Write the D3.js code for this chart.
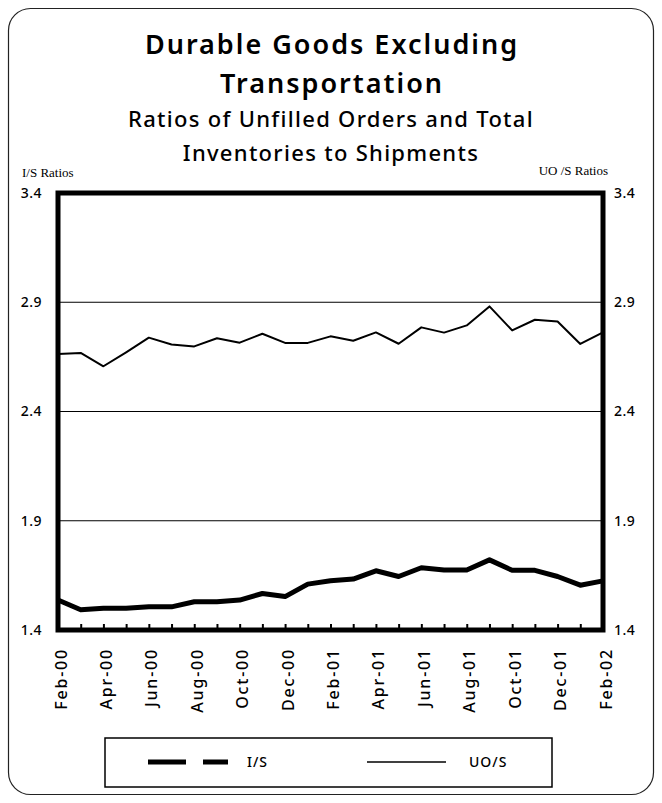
<!DOCTYPE html>
<html>
<head>
<meta charset="utf-8">
<script src="https://cdn.jsdelivr.net/npm/d3@7"></script>
<style>
  html, body { margin: 0; padding: 0; background: #fff; }
  svg { display: block; }
</style>
</head>
<body>
<svg id="chart" width="662" height="803"></svg>
<script>
// ---- data ----
const months = ["Feb-00","Mar-00","Apr-00","May-00","Jun-00","Jul-00","Aug-00","Sep-00","Oct-00","Nov-00","Dec-00","Jan-01",
                "Feb-01","Mar-01","Apr-01","May-01","Jun-01","Jul-01","Aug-01","Sep-01","Oct-01","Nov-01","Dec-01","Jan-02","Feb-02"];
const isRatios = [1.537,1.493,1.500,1.499,1.506,1.506,1.529,1.529,1.537,1.567,1.553,1.610,
                  1.625,1.633,1.671,1.645,1.685,1.675,1.675,1.721,1.673,1.673,1.645,1.605,1.625];
const uosRatios = [2.663,2.668,2.607,2.671,2.738,2.707,2.698,2.735,2.715,2.756,2.714,2.714,
                   2.744,2.724,2.762,2.710,2.785,2.761,2.794,2.881,2.771,2.820,2.812,2.709,2.762];
const yTicks = [1.4, 1.9, 2.4, 2.9, 3.4];
const xTickLabels = ["Feb-00","Apr-00","Jun-00","Aug-00","Oct-00","Dec-00","Feb-01","Apr-01","Jun-01","Aug-01","Oct-01","Dec-01","Feb-02"];
const titleLines = ["Durable Goods Excluding", "Transportation"];
const subtitleLines = ["Ratios of Unfilled Orders and Total", "Inventories to Shipments"];
const leftAxisTitle = "I/S Ratios";
const rightAxisTitle = "UO /S Ratios";
const seriesNames = ["I/S", "UO/S"];

// ---- layout ----
const svg = d3.select("#chart");
const L = 58, R = 603, T = 193, B = 630;
const x = d3.scalePoint().domain(months).range([L, R]);
const y = d3.scaleLinear().domain([1.4, 3.4]).range([B, T]);
const sansFont = "'Noto Sans', 'Open Sans', sans-serif";
const serifFont = "'Liberation Serif', 'DejaVu Serif', serif";

// outer rounded frame
svg.append("rect").attr("x", 8.5).attr("y", 8.5).attr("width", 645).attr("height", 786)
  .attr("rx", 22).attr("ry", 22).attr("fill", "none").attr("stroke", "#222").attr("stroke-width", 1.2);

// titles
const titleY = [54, 93];
svg.selectAll("text.title").data(titleLines).join("text")
  .attr("class", "title").attr("x", 332).attr("y", (d, i) => titleY[i])
  .attr("text-anchor", "middle").attr("font-family", sansFont).attr("font-weight", 600)
  .attr("font-size", 27).attr("letter-spacing", 2).attr("fill", "#000").text(d => d);
const subY = [127, 161];
svg.selectAll("text.subtitle").data(subtitleLines).join("text")
  .attr("class", "subtitle").attr("x", 331).attr("y", (d, i) => subY[i])
  .attr("text-anchor", "middle").attr("font-family", sansFont).attr("font-weight", 500)
  .attr("font-size", 22).attr("letter-spacing", 1.3).attr("fill", "#000").text(d => d);

// axis titles (serif)
svg.append("text").attr("x", 22).attr("y", 177).attr("font-family", serifFont)
  .attr("font-size", 13).text(leftAxisTitle);
svg.append("text").attr("x", 608).attr("y", 175).attr("text-anchor", "end")
  .attr("font-family", serifFont).attr("font-size", 13).text(rightAxisTitle);

// gridlines
svg.append("g").selectAll("line").data(yTicks.filter(v => v > 1.4 && v < 3.4)).join("line")
  .attr("x1", L).attr("x2", R).attr("y1", d => y(d)).attr("y2", d => y(d))
  .attr("stroke", "#000").attr("stroke-width", 1.2);

// left axis labels
const leftAxis = svg.append("g").attr("transform", `translate(${L},0)`)
  .call(d3.axisLeft(y).tickValues(yTicks).tickSize(0).tickPadding(16).tickFormat(d3.format(".1f")));
leftAxis.select(".domain").remove();
leftAxis.selectAll("text").attr("font-family", sansFont).attr("font-size", 14).attr("font-weight", 500)
  .attr("letter-spacing", 0.5).attr("fill", "#000");

// right axis labels
const rightAxis = svg.append("g").attr("transform", `translate(${R},0)`)
  .call(d3.axisRight(y).tickValues(yTicks).tickSize(0).tickPadding(11).tickFormat(d3.format(".1f")));
rightAxis.select(".domain").remove();
rightAxis.selectAll("text").attr("font-family", sansFont).attr("font-size", 14).attr("font-weight", 500)
  .attr("letter-spacing", 0.5).attr("fill", "#000");

// bottom tick marks (all months, inward)
const tickAxis = svg.append("g").attr("transform", `translate(0,${B})`)
  .call(d3.axisBottom(x).tickSize(-6).tickFormat(""));
tickAxis.select(".domain").remove();
tickAxis.selectAll("line").attr("stroke", "#000").attr("stroke-width", 2);

// bottom labels (rotated)
const labelAxis = svg.append("g").attr("transform", `translate(0,${B})`)
  .call(d3.axisBottom(x).tickValues(xTickLabels).tickSize(0).tickPadding(0));
labelAxis.select(".domain").remove();
labelAxis.selectAll("text")
  .attr("transform", "rotate(-90)")
  .attr("x", -18).attr("y", 0).attr("dy", "0.5em")
  .attr("text-anchor", "end")
  .attr("font-family", sansFont).attr("font-size", 16).attr("font-weight", 500)
  .attr("letter-spacing", 1.8).attr("fill", "#000");

// lines
const line = d3.line().x((d, i) => x(months[i])).y(d => y(d));
svg.append("path").datum(uosRatios).attr("d", line)
  .attr("fill", "none").attr("stroke", "#000").attr("stroke-width", 2).attr("stroke-linejoin", "round");
svg.append("path").datum(isRatios).attr("d", line)
  .attr("fill", "none").attr("stroke", "#000").attr("stroke-width", 5).attr("stroke-linejoin", "round");

// plot frame
svg.append("rect").attr("x", L).attr("y", T).attr("width", R - L).attr("height", B - T)
  .attr("fill", "none").attr("stroke", "#000").attr("stroke-width", 5);

// legend
const lg = svg.append("g");
lg.append("rect").attr("x", 105).attr("y", 738).attr("width", 447).attr("height", 49)
  .attr("fill", "none").attr("stroke", "#000").attr("stroke-width", 1.5);
lg.append("line").attr("x1", 148).attr("x2", 228).attr("y1", 762).attr("y2", 762)
  .attr("stroke", "#000").attr("stroke-width", 5).attr("stroke-dasharray", "38,17,25");
lg.append("text").attr("x", 247).attr("y", 767).attr("font-family", sansFont).attr("font-size", 14)
  .attr("font-weight", 500).attr("letter-spacing", 1).text(seriesNames[0]);
lg.append("line").attr("x1", 367).attr("x2", 446).attr("y1", 762).attr("y2", 762)
  .attr("stroke", "#000").attr("stroke-width", 1.5);
lg.append("text").attr("x", 469).attr("y", 767).attr("font-family", sansFont).attr("font-size", 14)
  .attr("font-weight", 500).attr("letter-spacing", 1).text(seriesNames[1]);
</script>
</body>
</html>
